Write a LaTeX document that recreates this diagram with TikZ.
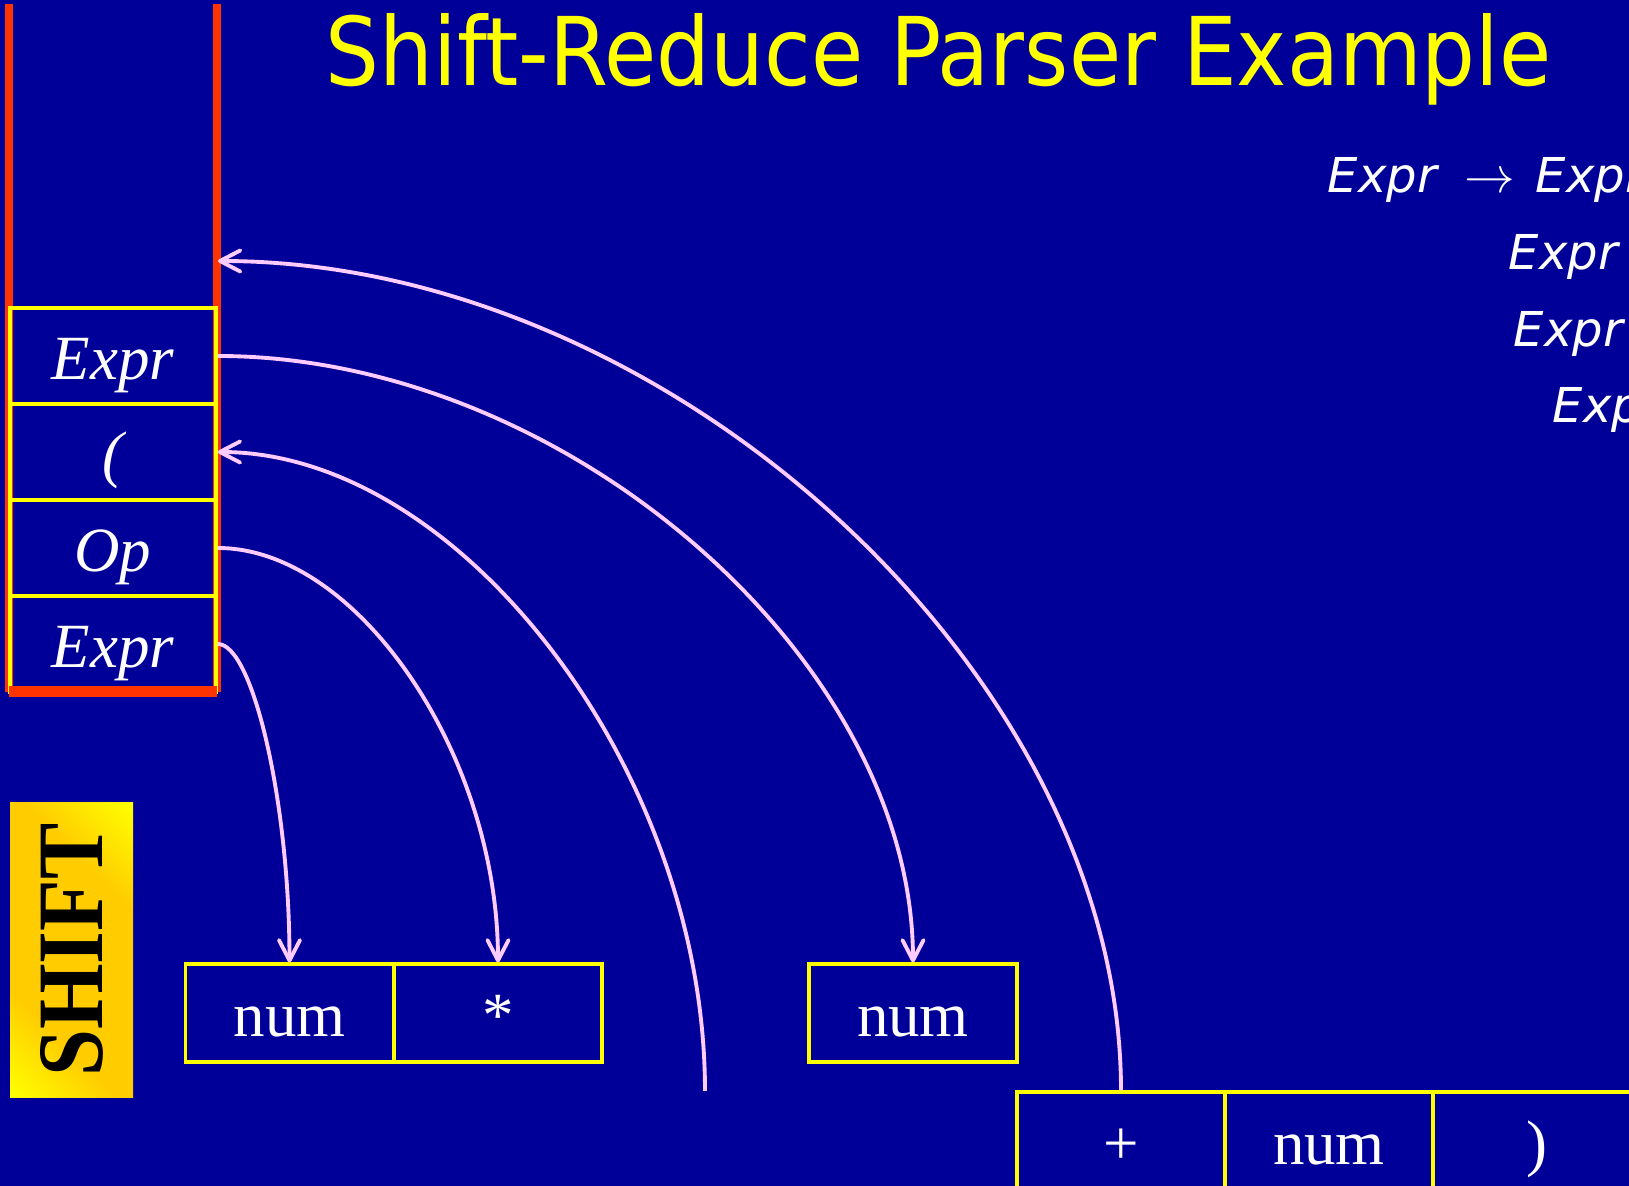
\documentclass[tikz,border=0pt]{standalone}
\usepackage{fontspec}
\setmainfont{Liberation Serif}
\newfontfamily\titlefont{DejaVu Sans}
\newfontfamily\gramfont{DejaVu Sans}
\usetikzlibrary{arrows.meta}
\definecolor{bg}{HTML}{000099}
\definecolor{stackred}{HTML}{FF3300}
\definecolor{ylw}{HTML}{FFFF00}
\definecolor{gold}{HTML}{FFCC00}
\definecolor{pinkc}{HTML}{FFCCFF}
\pgfdeclarehorizontalshading{shiftshade}{100bp}{color(0bp)=(ylw); color(15bp)=(ylw); color(33bp)=(gold); color(67bp)=(gold); color(85bp)=(ylw); color(100bp)=(ylw)}
\begin{document}
\begin{tikzpicture}[x=0.01cm,y=-0.01cm,
  cell/.style={draw=ylw, line width=1pt, minimum width=2.06cm, minimum height=0.96cm,
    inner sep=0pt, text=white, font=\fontsize{17.9pt}{20pt}\selectfont,
    text height=0.52cm, text depth=0.05cm},
  tok/.style={cell, line width=0.9pt, minimum width=2.08cm, minimum height=0.98cm},
  conn/.style={draw=pinkc, line width=1.1pt, -{Straight Barb[length=5.8pt,width=6pt,round]}},
  gram/.style={anchor=base west, inner sep=0pt, text=white,
    font=\gramfont\itshape\fontsize{13.66pt}{16pt}\selectfont}
]
\useasboundingbox (0,0) rectangle (1629,1186);
\fill[bg] (0,0) rectangle (1629,1186);
\clip (0,0) rectangle (1629,1186);

% title
\node[anchor=base west, inner sep=0pt, text=ylw] (title) at (325,86)
  {\resizebox{12.25cm}{0.72cm}{\titlefont Shift-Reduce Parser Example}};

% grammar (partly outside the slide)
\node[gram] (g1) at (1327,193) {Expr};
\node[anchor=base west, inner sep=0pt, text=white, font=\fontsize{14pt}{16pt}\selectfont] (g1arr) at (1464,193) {$\rightarrow$};
\node[gram] (g1b) at (1535,193) {Expr};
\node[gram] (g2) at (1508,270) {Expr};
\node[gram] (g3) at (1513,347) {Expr};
\node[gram] (g4) at (1552,423) {Expr};

% stack outline
\draw[stackred, line width=2.3pt] (9,4) -- (9,692);
\draw[stackred, line width=2.3pt] (217,4) -- (217,692);

% stack cells
\node[cell] (s1) at (113,356) {\itshape Expr};
\node[cell] (s2) at (113,452) {\itshape (};
\node[cell] (s3) at (113,548) {\itshape Op};
\node[cell] (s4) at (113,644) {\itshape Expr};
\fill[stackred] (9,686) rectangle (217,697);

% input tokens
\node[tok] (n1) at (289.5,1013) {num};
\node[tok] (st) at (498,1013) {*};
\node[tok] (n2) at (913,1013) {num};
\node[tok] (p1) at (1121,1141) {+};
\node[tok] (n3) at (1329,1141) {num};
\node[tok] (rp) at (1537,1141) {)};

% SHIFT label
\shade[shading=shiftshade, shading angle=45] (10,803) rectangle (133,1098);
\node[rotate=90, inner sep=0pt, text=black] (shiftlbl) at (72,950)
  {\resizebox{2.53cm}{0.62cm}{\bfseries SHIFT}};

% connectors
\coordinate (stk) at (218,261);
\coordinate (c3) at (705,1091);
\draw[conn] (p1.north) .. controls +(0,-415) and +(451,0) .. (stk);
\draw[conn] (s1.east) .. controls +(347,0) and +(0,-303) .. (n2.north);
\draw[conn] (c3) .. controls +(0,-319) and +(243,0) .. (s2.east);
\draw[conn] (s3.east) .. controls +(140,0) and +(0,-207) .. (st.north);
\draw[conn] (s4.east) .. controls +(35,0) and +(0,-160) .. (n1.north);
\end{tikzpicture}
\end{document}
